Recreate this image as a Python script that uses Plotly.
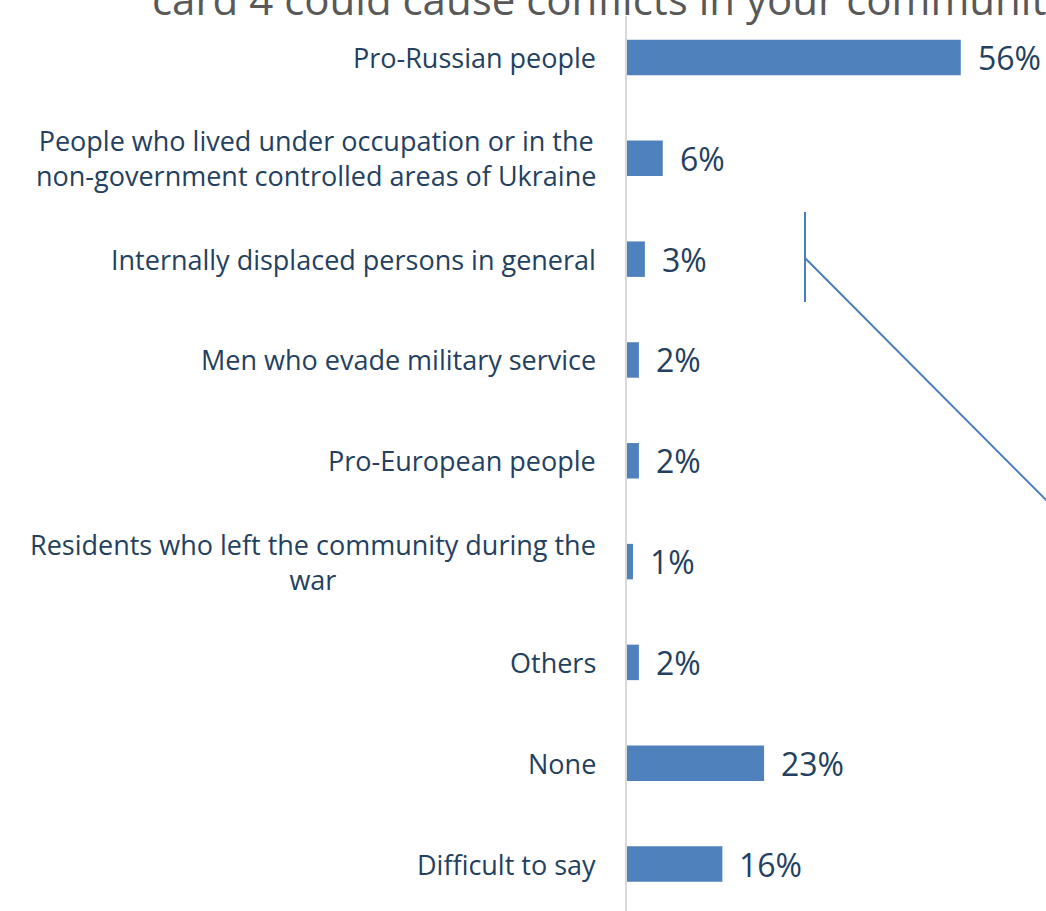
import plotly.graph_objects as go

# Survey answers, top to bottom
categories = [
    "Pro-Russian people",
    "People who lived under occupation or in the<br>non-government controlled areas of Ukraine",
    "Internally displaced persons in general",
    "Men who evade military service",
    "Pro-European people",
    "Residents who left the community during the<br>war",
    "Others",
    "None",
    "Difficult to say",
]
values = [56, 6, 3, 2, 2, 1, 2, 23, 16]
value_labels = ["56%", "6%", "3%", "2%", "2%", "1%", "2%", "23%", "16%"]
title_line = "card 4 could cause conflicts in your community?"

W, H = 1046, 911
M_L, M_R, M_T, M_B = 627, 0, 16, 0
BAR_COLOR = "#4F81BD"
TEXT_COLOR = "#243F60"
FONT = "Open Sans"

pos = list(range(len(categories)))

fig = go.Figure(
    go.Bar(
        x=values,
        y=pos,
        orientation="h",
        marker=dict(color=BAR_COLOR, line=dict(width=0)),
        width=0.352,
        hoverinfo="skip",
    )
)

annotations = []
# Category labels to the left of the axis
for i, cat in enumerate(categories):
    annotations.append(dict(
        x=0, y=i, xref="x", yref="y", text=cat, showarrow=False,
        xanchor="right", yanchor="middle", align="center", xshift=-29,
        font=dict(family=FONT, size=27, color=TEXT_COLOR),
    ))
# Value labels at the end of each bar
for i, (v, lab) in enumerate(zip(values, value_labels)):
    annotations.append(dict(
        x=v, y=i, xref="x", yref="y", text=lab, showarrow=False,
        xanchor="left", yanchor="middle", xshift=15,
        font=dict(family=FONT, size=32, color=TEXT_COLOR),
    ))

# Title line, partly above the page edge
def px_x(px):
    return (px - M_L) / (W - M_L - M_R)

def px_y(py):
    return 1 - (py - M_T) / (H - M_T - M_B)

annotations.append(dict(
    x=px_x(150), y=px_y(-1), xref="paper", yref="paper", text=title_line,
    showarrow=False, xanchor="left", yanchor="middle",
    font=dict(family=FONT, size=42, color="#595959"),
))

# Callout bracket pointing to the right
line_style = dict(color="#4A7EBB", width=2)
shapes = [
    dict(type="line", xref="paper", yref="paper",
         x0=px_x(805), y0=px_y(212), x1=px_x(805), y1=px_y(302), line=line_style),
    dict(type="line", xref="paper", yref="paper",
         x0=px_x(805), y0=px_y(258), x1=px_x(1060), y1=px_y(514), line=line_style),
]

fig.update_layout(
    width=W, height=H,
    margin=dict(l=M_L, r=M_R, t=M_T, b=M_B, pad=0),
    paper_bgcolor="white", plot_bgcolor="white",
    showlegend=False,
    xaxis=dict(range=[0, 70.3], visible=False, fixedrange=True),
    yaxis=dict(
        range=[8.466, -0.412], showticklabels=False, showgrid=False,
        zeroline=False, showline=True, linecolor="#D9D9D9", linewidth=2,
        ticks="", fixedrange=True,
    ),
    annotations=annotations,
    shapes=shapes,
)

fig.write_html("out.html", config={"displayModeBar": False})
